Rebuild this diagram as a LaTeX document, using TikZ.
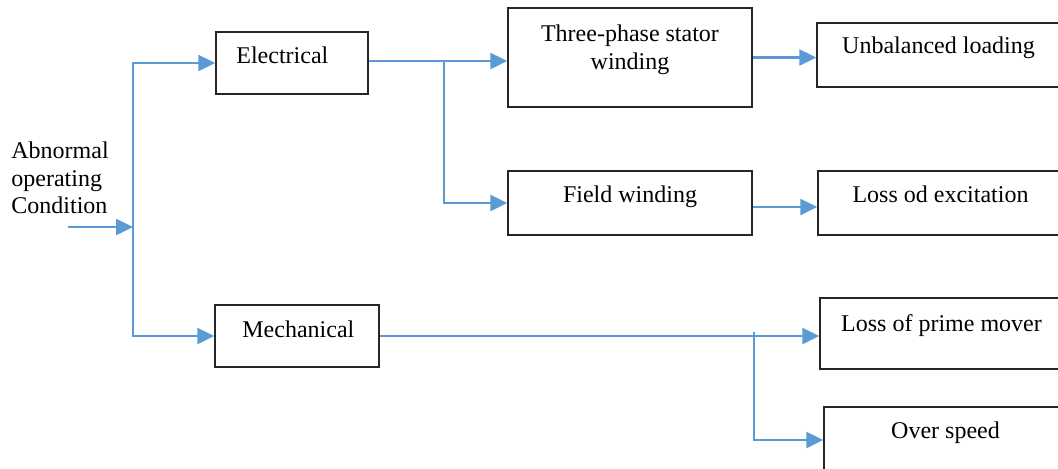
\documentclass[tikz,border=0pt]{standalone}
\usepackage{fontspec}
\setmainfont{Liberation Serif}
\usetikzlibrary{arrows.meta,fit}
\definecolor{flow}{HTML}{5B9BD5}
\begin{document}
\begin{tikzpicture}[x=0.5pt,y=-0.5pt,
  box/.style={draw=black!85, line width=0.75pt, inner sep=0pt},
  lbl/.style={font=\fontsize{12}{13.75}\selectfont, inner sep=0pt},
  wire/.style={draw=flow, line width=1.25pt},
  arr/.style={wire, -{Triangle[length=8.5pt,width=8pt]}}]
\useasboundingbox (0,0) rectangle (1058,468);
\clip (0,0) rectangle (1058,468);

% boxes
\node[box, fit={(216,32) (368,94)}] (el) {};
\node[box, fit={(215,305) (379,367)}] (me) {};
\node[box, fit={(508,8) (752,107)}] (tp) {};
\node[box, fit={(508,171) (752,235)}] (fw) {};
\node[box, fit={(817,23) (1070,87)}] (ub) {};
\node[box, fit={(818,171) (1070,235)}] (le) {};
\node[box, fit={(820,298) (1070,369)}] (lp) {};
\node[box, fit={(824,407) (1070,473)}] (os) {};

% labels
\node[lbl, anchor=north west, align=left] (src-t) at (11,141.5) {Abnormal\\operating\\Condition};
\node[lbl, anchor=base west] (el-t) at (236,63) {Electrical};
\node[lbl, anchor=base west] (me-t) at (242,337) {Mechanical};
\node[lbl, anchor=north, align=center] (tp-t) at (630,24.5) {Three-phase stator\\winding};
\node[lbl, anchor=base] (fw-t) at (630,202) {Field winding};
\node[lbl, anchor=base] (ub-t) at (938.5,53) {Unbalanced loading};
\node[lbl, anchor=base] (le-t) at (940.5,202) {Loss od excitation};
\node[lbl, anchor=base] (lp-t) at (941.5,331) {Loss of prime mover};
\node[lbl, anchor=base] (os-t) at (945.5,438) {Over speed};

% connectors
\coordinate (src) at (68,227);
\coordinate (fork) at (133,227);
\draw[arr] (src) -- (fork);
\draw[arr] (fork) |- (el.west);
\draw[arr] (fork) |- (me.west);

\draw[arr] ([yshift=1pt]el.east) -- ([yshift=1pt]el.east -| tp.west);
\coordinate (eb) at (444,61);
\draw[arr] (eb) |- (fw.west);

\draw[arr] (tp.east) -- (tp.east -| ub.west);
\draw[arr] ([yshift=-2pt]fw.east) -- ([yshift=-2pt]fw.east -| le.west);

\draw[arr] (me.east) -- (me.east -| lp.west);
\coordinate (mb) at (754,332);
\draw[arr] (mb) |- (os.west);
\end{tikzpicture}
\end{document}
